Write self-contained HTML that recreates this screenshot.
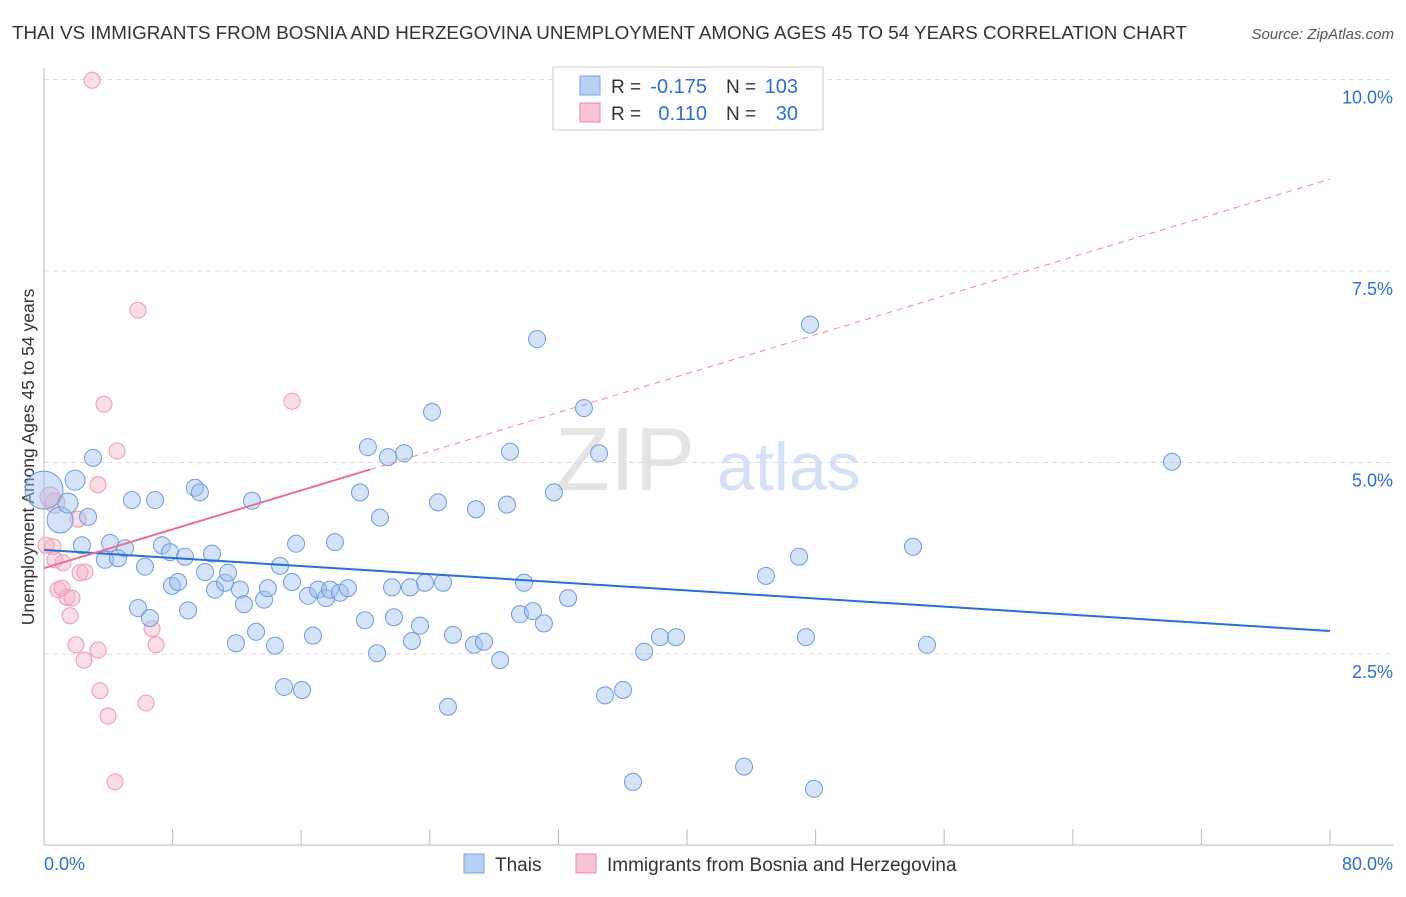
<!DOCTYPE html>
<html><head><meta charset="utf-8">
<style>
body{margin:0;background:#fff;font-family:"Liberation Sans",sans-serif;}
svg text{font-family:"Liberation Sans",sans-serif;}
</style></head>
<body>
<svg id="chart" width="1406" height="892" xmlns="http://www.w3.org/2000/svg">
<text x="12" y="39" font-size="18.8" fill="#333" textLength="1175" lengthAdjust="spacingAndGlyphs">THAI VS IMMIGRANTS FROM BOSNIA AND HERZEGOVINA UNEMPLOYMENT AMONG AGES 45 TO 54 YEARS CORRELATION CHART</text>
<text x="1394" y="39" font-size="15" fill="#555" text-anchor="end" font-style="italic">Source: ZipAtlas.com</text>
<text x="555" y="490" font-size="90" fill="#e4e4e4" font-family="Liberation Serif">ZIP</text>
<text x="717" y="490" font-size="68" fill="#d5e2f5">atlas</text>
<text transform="translate(34,457) rotate(-90)" font-size="17.5" fill="#333" text-anchor="middle">Unemployment Among Ages 45 to 54 years</text>
<g id="grid"></g><g id="axes"></g><g id="trend"></g><g id="points"></g>
<g>
<rect x="553" y="67" width="270" height="63" fill="#fff" stroke="#ccc"/>
<rect x="580" y="76" width="20" height="19" fill="#b7cff3" stroke="#7aa3e0"/>
<rect x="580" y="103" width="20" height="19" fill="#f9c5d5" stroke="#e88aa8"/>
<text x="611" y="93" font-size="19" fill="#333">R =</text>
<text x="707" y="93" font-size="20" fill="#2a6fd6" text-anchor="end">-0.175</text>
<text x="726" y="93" font-size="19" fill="#333">N =</text>
<text x="798" y="93" font-size="20" fill="#2a6fd6" text-anchor="end">103</text>
<text x="611" y="120" font-size="19" fill="#333">R =</text>
<text x="707" y="120" font-size="20" fill="#2a6fd6" text-anchor="end">0.110</text>
<text x="726" y="120" font-size="19" fill="#333">N =</text>
<text x="798" y="120" font-size="20" fill="#2a6fd6" text-anchor="end">30</text>
</g>
<g>
<rect x="464" y="854" width="20" height="19" fill="#b7cff3" stroke="#7aa3e0"/>
<text x="495" y="871" font-size="19" fill="#333">Thais</text>
<rect x="576" y="854" width="20" height="19" fill="#f9c5d5" stroke="#e88aa8"/>
<text x="607" y="871" font-size="19" fill="#333">Immigrants from Bosnia and Herzegovina</text>
</g>
</svg>
<script>
const yTicks=[2.5,5.0,7.5,10.0];
const xTickVals=[0,8,16,24,32,40,48,56,64,72,80];
const xLabels=["0.0%","80.0%"];
const blueX=[0,1,1.93,1.49,3.05,2.74,2.36,4.11,5.04,3.79,4.6,5.47,6.91,6.28,5.85,6.59,7.34,7.84,7.96,8.34,8.96,8.77,9.39,9.7,10.45,10.02,10.64,11.26,11.45,11.94,12.19,12.44,12.94,13.19,13.69,13.93,14.37,14.68,14.93,15.43,15.68,16.05,16.42,16.73,17.05,17.54,17.79,18.1,18.41,18.91,19.66,19.97,20.15,20.72,20.9,21.4,21.65,21.77,22.4,22.77,22.89,23.39,23.7,24.14,24.51,24.82,25.13,25.44,26.87,26.75,27.37,28.37,28.8,28.99,29.61,29.86,30.42,30.67,31.1,31.72,32.6,33.59,34.53,34.9,36.02,36.64,37.33,38.32,39.32,43.55,44.91,46.97,47.4,47.65,47.9,54.06,54.93,70.17];
const blueY=[4.64,4.25,4.77,4.47,5.06,4.29,3.92,3.95,3.88,3.73,3.75,4.51,4.51,3.64,3.1,2.97,3.92,3.83,3.39,3.44,3.07,3.77,4.67,4.61,3.81,3.57,3.34,3.43,3.56,2.64,3.34,3.15,4.5,2.79,3.21,3.36,2.61,3.65,2.07,3.44,3.94,2.03,3.26,2.74,3.34,3.23,3.34,3.96,3.3,3.36,4.61,2.94,5.2,2.51,4.28,5.07,3.37,2.98,5.12,3.37,2.67,2.87,3.43,5.66,4.48,3.43,1.81,2.75,4.39,2.62,2.66,2.42,4.45,5.14,3.02,3.43,3.06,6.61,2.9,4.61,3.23,5.71,5.12,1.96,2.03,0.83,2.53,2.72,2.72,1.03,3.52,3.77,2.72,6.8,0.74,3.9,2.62,5.01];
const pinkX=[2.99,0.37,0.68,0.56,0.68,1.18,0.87,1.12,1.43,1.74,1.62,2.12,2.24,2.55,1.99,2.49,3.36,3.48,3.36,3.98,3.73,4.54,4.42,5.85,6.72,6.97,6.35,15.43,0.12];
const pinkY=[9.99,4.55,4.47,3.9,3.73,3.69,3.34,3.36,3.24,3.23,3.0,4.26,3.56,3.57,2.62,2.42,2.55,2.02,4.71,1.69,5.76,5.15,0.83,6.99,2.83,2.62,1.86,5.8,3.92];
const blueTrend=[3.86,2.80];
const pinkTrend=[3.62,8.70];
const pinkSolidEnd=20.3;
const NS="http://www.w3.org/2000/svg";
const X=v=>44+v*16.075, Y=v=>845.5-v*76.6;
function mk(tag,attrs,parent){const e=document.createElementNS(NS,tag);for(const k in attrs)e.setAttribute(k,attrs[k]);parent.appendChild(e);return e;}
const grid=document.getElementById('grid'),axes=document.getElementById('axes'),trend=document.getElementById('trend'),pts=document.getElementById('points');
yTicks.forEach(t=>{
 const l=mk('line',{x1:44,x2:1393,y1:Y(t),y2:Y(t),stroke:'#ddd','stroke-dasharray':'5,4'},grid);
 
 
 const tx=mk('text',{x:1393,y:Y(t)+24,'font-size':18,fill:'#2a6fd6','text-anchor':'end'},grid);
 tx.textContent=t.toFixed(1)+'%';
 
 
});
let a=mk('line',{x1:44,x2:44,y1:68,y2:845,stroke:'#bbb'},axes);


a=mk('line',{x1:44,x2:1393,y1:845,y2:845,stroke:'#bbb'},axes);


xTickVals.forEach(t=>{
 const l=mk('line',{x1:X(t),x2:X(t),y1:829,y2:845,stroke:'#bbb'},axes);
 
 
});
let t0=mk('text',{x:44,y:870,'font-size':18,fill:'#2a6fd6'},axes);t0.textContent=xLabels[0];


let t1=mk('text',{x:1393,y:870,'font-size':18,fill:'#2a6fd6','text-anchor':'end'},axes);t1.textContent=xLabels[1];


const pv=x=>pinkTrend[0]+(pinkTrend[1]-pinkTrend[0])*x/80;
let tl=mk('line',{x1:X(pinkSolidEnd),y1:Y(pv(pinkSolidEnd)),x2:X(80),y2:Y(pinkTrend[1]),stroke:'#e88aa8','stroke-width':1,'stroke-dasharray':'6,5'},trend);


pinkX.forEach((x,i)=>{
 const c=mk('circle',{cx:X(x),cy:Y(pinkY[i]),r:i==1||i==2?10:8,fill:'rgba(246,180,200,0.45)',stroke:'#ec9ab4','stroke-width':1},pts);
 
 
});
blueX.forEach((x,i)=>{
 const r=i==0?19:(i==1?13:(i<4?10:8.5));
 const c=mk('circle',{cx:X(x),cy:Y(blueY[i]),r:r,fill:'rgba(160,192,240,0.45)',stroke:'#6f9bdc','stroke-width':1},pts);
 
 
});
tl=mk('line',{x1:X(0),y1:Y(blueTrend[0]),x2:X(80),y2:Y(blueTrend[1]),stroke:'#2a6fd6','stroke-width':2},trend);


tl=mk('line',{x1:X(0),y1:Y(pinkTrend[0]),x2:X(pinkSolidEnd),y2:Y(pv(pinkSolidEnd)),stroke:'#e8719a','stroke-width':2},trend);


trend.parentNode.appendChild(trend);
</script>
</body></html>
